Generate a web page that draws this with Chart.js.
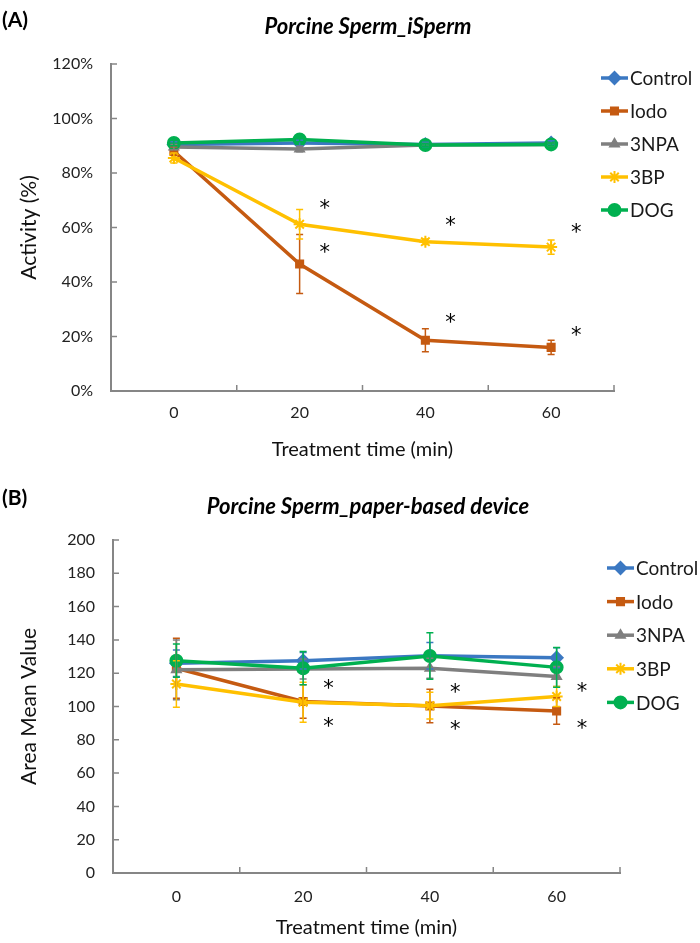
<!DOCTYPE html>
<html>
<head>
<meta charset="utf-8">
<script src="https://cdn.jsdelivr.net/npm/chart.js@4.4.1/dist/chart.umd.min.js"></script>
<style>
  body { margin: 0; background: #fff; }
  #wrap { position: relative; width: 700px; height: 943px; font-family: Lato, sans-serif; }
  canvas { position: absolute; left: 0; }
  .tag { position: absolute; left: 2px; font: bold 21px Lato, sans-serif; color: #000; }
  .ttl { position: absolute; left: 163px; width: 410px; text-align: center; font: italic bold 22px Lato, sans-serif; color: #000; }
</style>
</head>
<body>
<div id="wrap">
  <canvas id="chartA" width="700" height="470" style="top:0"></canvas>
  <canvas id="chartB" width="700" height="473" style="top:470px"></canvas>
  <div class="tag" style="top:6px">(A)</div>
  <div class="ttl" style="top:12px">Porcine Sperm_iSperm</div>
  <div class="tag" style="top:484px">(B)</div>
  <div class="ttl" style="top:492px">Porcine Sperm_paper-based device</div>
</div>
<script>
const times = ["0", "20", "40", "60"];
const names = ["Control", "Iodo", "3NPA", "3BP", "DOG"];
const colors = ["#3b78c2", "#c55a11", "#7f7f7f", "#ffc000", "#00b050"];
const markers = ["rectRot", "rect", "triangle", "star", "circle"];
const markerSize = [6, 5, 5, 6, 6];

// (A) iSperm, activity %
const controlA = [90.5, 91, 90.5, 91];
const iodoA = [88, 46.6, 18.6, 16];
const npaA = [89.5, 88.8, 90.3, 90.5];
const bpA = [85.5, 61.2, 54.8, 52.8];
const dogA = [91, 92.3, 90.3, 90.5];
const controlAErr = [1, 1, 0.8, 0.8];
const iodoAErr = [1.5, 10.8, 4.2, 2.6];
const npaAErr = [1, 1, 0.5, 0.5];
const bpAErr = [1.8, 5.4, 1, 2.6];
const dogAErr = [1, 0.8, 0.5, 0.5];
const starIdxA = [1, 1, 2, 2, 3, 3];
const starValA = [67.9, 52, 61.9, 26.3, 59.4, 21.5];

// (B) paper-based device, area mean value
const controlB = [126, 127.5, 130.5, 129.3];
const iodoB = [123, 103, 100.3, 97.3];
const npaB = [122, 122.5, 123, 118];
const bpB = [113.5, 102.5, 100.5, 106];
const dogB = [127.5, 123, 130.3, 123.5];
const controlBErr = [8, 5, 8, 6];
const iodoBErr = [18, 10, 10, 8];
const npaBErr = [18, 6, 6, 6];
const bpBErr = [14, 12, 8, 6];
const dogBErr = [10, 10, 14, 12];
const starIdxB = [1, 1, 2, 2, 3, 3];
const starValB = [112.3, 89.5, 110.3, 87.9, 111, 88.5];

const font = "Lato";
const axisColor = "#868686";

function makePanel(id, series, errs, starIdx, starVal, cfg) {
  const datasets = series.map((vals, i) => ({
    label: names[i],
    data: vals,
    errors: errs[i],
    borderColor: colors[i],
    backgroundColor: colors[i],
    pointStyle: markers[i],
    pointRadius: markerSize[i],
    pointBorderWidth: 2,
    borderWidth: 3.5,
    tension: 0,
    order: names.length - i,
  }));

  const errorBars = {
    id: "errorBars",
    afterDatasetsDraw(chart) {
      const ctx = chart.ctx, y = chart.scales.y;
      ctx.save();
      chart.data.datasets.forEach((ds, i) => {
        const meta = chart.getDatasetMeta(i);
        ctx.strokeStyle = ds.borderColor;
        ctx.lineWidth = 1.5;
        ds.data.forEach((v, j) => {
          const x = meta.data[j].x;
          const top = y.getPixelForValue(v + ds.errors[j]);
          const bot = y.getPixelForValue(v - ds.errors[j]);
          ctx.beginPath();
          ctx.moveTo(x, top); ctx.lineTo(x, bot);
          ctx.moveTo(x - 3.5, top); ctx.lineTo(x + 3.5, top);
          ctx.moveTo(x - 3.5, bot); ctx.lineTo(x + 3.5, bot);
          ctx.stroke();
        });
      });
      ctx.restore();
    }
  };

  const stars = {
    id: "stars",
    afterDatasetsDraw(chart) {
      const { ctx, scales: { x, y } } = chart;
      const w = x.getPixelForValue(1) - x.getPixelForValue(0);
      ctx.save();
      ctx.fillStyle = "#000";
      ctx.font = "21px 'DejaVu Sans'";
      ctx.textAlign = "center";
      ctx.textBaseline = "middle";
      starIdx.forEach((k, i) => {
        ctx.fillText("*", x.getPixelForValue(k) + 0.2 * w, y.getPixelForValue(starVal[i]) + 4);
      });
      ctx.restore();
    }
  };

  // excel style tick marks pointing into the plot
  const innerTicks = {
    id: "innerTicks",
    afterDraw(chart) {
      const { ctx, chartArea: a, scales: { x, y } } = chart;
      ctx.save();
      ctx.strokeStyle = axisColor;
      ctx.lineWidth = 1.5;
      ctx.beginPath();
      y.ticks.forEach((t, i) => {
        const py = y.getPixelForTick(i);
        ctx.moveTo(a.left, py); ctx.lineTo(a.left + 6, py);
      });
      const w = (a.right - a.left) / x.ticks.length;
      for (let i = 1; i <= x.ticks.length; i++) {
        const px = a.left + i * w;
        ctx.moveTo(px, a.bottom); ctx.lineTo(px, a.bottom - 6);
      }
      ctx.stroke();
      ctx.restore();
    }
  };

  const sideLegend = {
    id: "sideLegend",
    afterDraw(chart) {
      const ctx = chart.ctx;
      ctx.save();
      chart.data.datasets.forEach((ds, i) => {
        const y = cfg.legendY + i * cfg.legendGap;
        const x = cfg.legendX;
        ctx.strokeStyle = ds.borderColor;
        ctx.fillStyle = ds.backgroundColor;
        ctx.lineWidth = 3.5;
        ctx.beginPath(); ctx.moveTo(x, y); ctx.lineTo(x + 27, y); ctx.stroke();
        ctx.lineWidth = 2;
        Chart.helpers.drawPoint(ctx, { pointStyle: ds.pointStyle, radius: ds.pointRadius, borderWidth: 2, rotation: 0 }, x + 13.5, y);
        ctx.fillStyle = "#1a1a1a";
        ctx.font = "19px " + font;
        ctx.textAlign = "left";
        ctx.textBaseline = "middle";
        ctx.fillText(ds.label, x + 29, y + 1);
      });
      ctx.restore();
    }
  };

  return new Chart(document.getElementById(id), {
    type: "line",
    data: { labels: times, datasets },
    plugins: [errorBars, stars, innerTicks, sideLegend],
    options: {
      responsive: false,
      animation: false,
      layout: { padding: { top: cfg.top, right: cfg.right, left: 0, bottom: 0 } },
      plugins: { legend: { display: false }, tooltip: { enabled: false } },
      scales: {
        x: {
          offset: true,
          grid: { drawOnChartArea: false, drawTicks: false, offset: true },
          border: { color: axisColor, width: 2 },
          ticks: { padding: cfg.xPad, color: "#222", font: { family: font, size: 16 } },
          title: { display: true, text: "Treatment time (min)", color: "#111", font: { family: font, size: 20 }, padding: { top: 0, bottom: cfg.xTitlePad } },
          afterFit: s => { s.height = cfg.xHeight; }
        },
        y: {
          min: 0,
          max: cfg.max,
          grid: { drawOnChartArea: false, drawTicks: false },
          border: { color: axisColor, width: 2 },
          ticks: { stepSize: 20, padding: 18, color: "#222", font: { family: font, size: 16 }, callback: cfg.fmt },
          title: { display: true, text: cfg.yTitle, color: "#111", font: { family: font, size: 21 }, padding: { top: 17, bottom: 0 } },
          afterFit: s => { s.width = cfg.left; }
        }
      }
    }
  });
}

makePanel("chartA",
  [controlA, iodoA, npaA, bpA, dogA],
  [controlAErr, iodoAErr, npaAErr, bpAErr, dogAErr],
  starIdxA, starValA,
  { top: 64, right: 86, left: 111, xHeight: 79, xPad: 12, xTitlePad: 8, max: 120,
    fmt: v => v + "%", yTitle: "Activity (%)", legendX: 601, legendY: 78, legendGap: 33 });

makePanel("chartB",
  [controlB, iodoB, npaB, bpB, dogB],
  [controlBErr, iodoBErr, npaBErr, bpBErr, dogBErr],
  starIdxB, starValB,
  { top: 70, right: 80, left: 113, xHeight: 70, xPad: 14, xTitlePad: 3, max: 200,
    fmt: v => v, yTitle: "Area Mean Value", legendX: 607, legendY: 98, legendGap: 33.6 });
</script>
</body>
</html>
